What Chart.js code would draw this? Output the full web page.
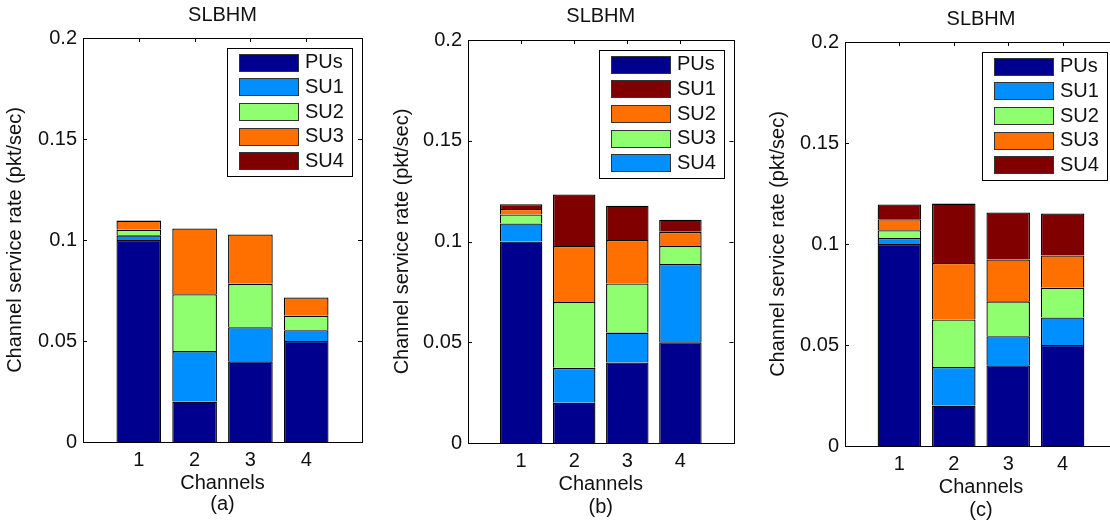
<!DOCTYPE html>
<html>
<head>
<meta charset="utf-8">
<script src="https://cdn.jsdelivr.net/npm/chart.js@4.4.1/dist/chart.umd.min.js"></script>
<style>
  html, body { margin: 0; padding: 0; background: #fff; overflow: hidden; }
  .panel { position: absolute; top: 0; height: 529px; }
</style>
</head>
<body>
<div class="panel" style="left:0px;width:370px"><canvas id="chart-a" width="370" height="529"></canvas></div>
<div class="panel" style="left:370px;width:370px"><canvas id="chart-b" width="370" height="529"></canvas></div>
<div class="panel" style="left:740px;width:390px"><canvas id="chart-c" width="390" height="529"></canvas></div>
<script>
// categories and tick labels
var channels = ['1', '2', '3', '4'];
var yTickValues = [0, 0.05, 0.1, 0.15, 0.2];
var legendLabels = ['PUs', 'SU1', 'SU2', 'SU3', 'SU4'];

// (a) service rate per channel (pkt/sec)
var puA  = [0.1, 0.02, 0.04, 0.05];
var su1A = [0.0023, 0.025, 0.0168, 0.0053];
var su2A = [0.0028, 0.0282, 0.0215, 0.0072];
var su3A = [0.0045, 0.0325, 0.0244, 0.009];
var su4A = [0, 0, 0, 0];

// (b)
var puB  = [0.1, 0.02, 0.04, 0.05];
var su1B = [0.0024, 0.0255, 0.017, 0.006];
var su2B = [0.0027, 0.0278, 0.0216, 0.007];
var su3B = [0.0045, 0.0327, 0.0244, 0.009];
var su4B = [0.0089, 0.0173, 0.0148, 0.0388];

// (c)
var puC  = [0.1, 0.02, 0.04, 0.05];
var su1C = [0.003, 0.0191, 0.0143, 0.0136];
var su2C = [0.0038, 0.0235, 0.0173, 0.0148];
var su3C = [0.0055, 0.028, 0.0207, 0.0159];
var su4C = [0.0073, 0.0294, 0.0233, 0.0208];

var navy = '#00008f', blue = '#008fff', green = '#8fff70', orange = '#ff7000', darkRed = '#800000';
var fontFamily = "'Liberation Sans', Arial, Helvetica, sans-serif";
var textColor = '#111';

// series listed bottom -> top of the stack
var panels = [
  { id: 'chart-a', caption: '(a)',
    series: [['PUs', puA, navy], ['SU1', su1A, blue], ['SU2', su2A, green], ['SU3', su3A, orange], ['SU4', su4A, darkRed]],
    yWidth: 83, xHeight: 87, padRight: 8, titlePad: { top: 3.2, bottom: 10.8 },
    yTitlePad: 3.5, xTitleLine: 1.04, xTitlePadBottom: 14.1 },
  { id: 'chart-b', caption: '(b)',
    series: [['PUs', puB, navy], ['SU4', su4B, blue], ['SU3', su3B, green], ['SU2', su2B, orange], ['SU1', su1B, darkRed]],
    yWidth: 98, xHeight: 86, padRight: 1, titlePad: { top: 4.5, bottom: 11.5 },
    yTitlePad: 20.7, xTitleLine: 1.12, xTitlePadBottom: 10.6 },
  { id: 'chart-c', caption: '(c)',
    series: [['PUs', puC, navy], ['SU1', su1C, blue], ['SU2', su2C, green], ['SU3', su3C, orange], ['SU4', su4C, darkRed]],
    yWidth: 105, xHeight: 83, padRight: 13, titlePad: { top: 7.9, bottom: 10.1 },
    yTitlePad: 26.6, xTitleLine: 1.155, xTitlePadBottom: 7 }
];

// matlab-like axes box with inward ticks
var axesBox = {
  id: 'axesBox',
  beforeDatasetsDraw: function(chart) {
    var a = chart.chartArea, ctx = chart.ctx;
    var xs = chart.scales.x, ys = chart.scales.y;
    ctx.save();
    ctx.strokeStyle = '#000';
    ctx.lineWidth = 1;
    ctx.beginPath();
    yTickValues.slice(1, -1).forEach(function(v) {
      var py = Math.round(ys.getPixelForValue(v)) + 0.5;
      ctx.moveTo(a.left, py); ctx.lineTo(a.left + 4, py);
      ctx.moveTo(a.right, py); ctx.lineTo(a.right - 4, py);
    });
    channels.forEach(function(c, i) {
      var px = Math.round(xs.getPixelForValue(i + 1)) + 0.5;
      ctx.moveTo(px, a.top); ctx.lineTo(px, a.top + 4);
      ctx.moveTo(px, a.bottom); ctx.lineTo(px, a.bottom - 4);
    });
    ctx.stroke();
    ctx.restore();
  },
  afterDatasetsDraw: function(chart) {
    var a = chart.chartArea, ctx = chart.ctx;
    ctx.save();
    ctx.strokeStyle = '#000';
    ctx.lineWidth = 1;
    ctx.strokeRect(Math.round(a.left) + 0.5, Math.round(a.top) + 0.5,
                   Math.round(a.right - a.left), Math.round(a.bottom - a.top));

    // legend box, top right inside the axes
    var w = 125, h = 128;
    var lx = Math.round(a.right - 10 - w), ly = Math.round(a.top + 9.5);
    ctx.fillStyle = '#fff';
    ctx.fillRect(lx, ly, w, h);
    ctx.strokeRect(lx + 0.5, ly + 0.5, w, h);
    ctx.font = '20px ' + fontFamily;
    ctx.textBaseline = 'middle';
    ctx.textAlign = 'left';
    legendLabels.forEach(function(lbl, i) {
      var ds = chart.data.datasets.find(function(d) { return d.label === lbl; });
      var cy = ly + 14.8 + i * 24.6;
      ctx.fillStyle = ds.backgroundColor;
      ctx.fillRect(lx + 12, Math.round(cy - 9), 60, 18);
      ctx.strokeStyle = '#333';
      ctx.strokeRect(lx + 12.5, Math.round(cy - 9) + 0.5, 59, 17);
      ctx.fillStyle = textColor;
      ctx.fillText(lbl, lx + 78, cy);
    });
    ctx.restore();
  }
};

panels.forEach(function(p) {
  var xLabels = [''].concat(channels, ['']);
  var datasets = p.series.map(function(s) {
    return {
      label: s[0],
      data: [null].concat(s[1], [null]),
      backgroundColor: s[2],
      borderColor: '#000',
      borderWidth: 1.3,
      barPercentage: 0.8,
      categoryPercentage: 1.0
    };
  });

  new Chart(document.getElementById(p.id), {
    type: 'bar',
    data: { labels: xLabels, datasets: datasets },
    plugins: [axesBox],
    options: {
      responsive: false,
      animation: false,
      layout: { padding: { left: 0, top: 0, right: p.padRight, bottom: 0 } },
      plugins: {
        legend: { display: false },
        tooltip: { enabled: false },
        title: {
          display: true,
          text: 'SLBHM',
          fullSize: false,
          color: textColor,
          font: { family: fontFamily, size: 20, weight: 'normal', lineHeight: 1.2 },
          padding: p.titlePad
        }
      },
      scales: {
        x: {
          type: 'category',
          stacked: true,
          offset: false,
          grid: { display: false, drawTicks: false },
          border: { display: false },
          ticks: { color: textColor, font: { family: fontFamily, size: 20 }, padding: 6.5, autoSkip: false, maxRotation: 0 },
          title: {
            display: true,
            text: ['Channels', p.caption],
            color: textColor,
            font: { family: fontFamily, size: 20, lineHeight: p.xTitleLine },
            padding: { top: 0, bottom: p.xTitlePadBottom }
          },
          afterFit: function(s) { s.height = p.xHeight; }
        },
        y: {
          stacked: true,
          min: 0,
          max: 0.2,
          grid: { display: false, drawTicks: false },
          border: { display: false },
          afterBuildTicks: function(s) { s.ticks = yTickValues.map(function(v) { return { value: v }; }); },
          ticks: {
            color: textColor,
            font: { family: fontFamily, size: 20 },
            padding: 6,
            callback: function(v) { return String(+(+v).toFixed(2)); }
          },
          title: {
            display: true,
            text: 'Channel service rate (pkt/sec)',
            color: textColor,
            font: { family: fontFamily, size: 20, lineHeight: 1.2 },
            padding: { top: p.yTitlePad, bottom: 0 }
          },
          afterFit: function(s) { s.width = p.yWidth; }
        }
      }
    }
  });
});
</script>
</body>
</html>
